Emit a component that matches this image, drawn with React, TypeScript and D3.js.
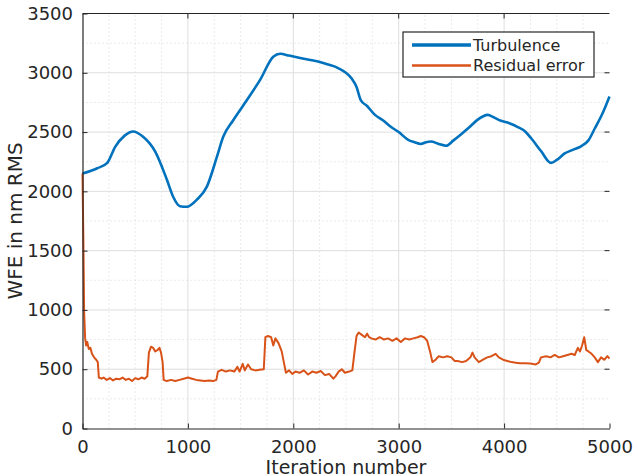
import React, { useEffect, useRef } from 'react';
import * as d3 from 'd3';

// Turbulence WFE (nm RMS)
const turbIter = [0, 140, 235, 310, 400, 480, 575, 690, 800, 860, 925, 990, 1085, 1180, 1275, 1335, 1430, 1560, 1685, 1810, 1875, 1960, 2065, 2150, 2235, 2330, 2425, 2550, 2600, 2640, 2700, 2775, 2850, 2925, 3000, 3090, 3150, 3210, 3260, 3305, 3380, 3450, 3520, 3590, 3670, 3750, 3845, 3900, 3970, 4050, 4135, 4200, 4255, 4350, 4445, 4500, 4575, 4650, 4730, 4800, 4860, 4930, 5000];
const turbVal = [2150, 2195, 2240, 2375, 2470, 2505, 2460, 2335, 2100, 1955, 1875, 1870, 1930, 2040, 2290, 2460, 2600, 2770, 2940, 3135, 3160, 3145, 3125, 3110, 3095, 3070, 3040, 2955, 2880, 2770, 2720, 2645, 2600, 2545, 2500, 2435, 2415, 2400, 2415, 2420, 2400, 2385, 2430, 2480, 2540, 2605, 2645, 2625, 2595, 2575, 2540, 2505, 2450, 2340, 2240, 2265, 2320, 2350, 2380, 2430, 2530, 2650, 2800];

// Residual error WFE (nm RMS)
const residIter = [0, 8, 15, 25, 35, 45, 60, 75, 90, 110, 130, 145, 155, 180, 200, 230, 260, 290, 320, 350, 380, 410, 440, 470, 500, 530, 560, 590, 615, 630, 650, 670, 690, 710, 730, 745, 760, 770, 800, 840, 880, 920, 960, 1000, 1040, 1080, 1120, 1160, 1200, 1240, 1270, 1285, 1320, 1360, 1400, 1440, 1470, 1490, 1520, 1540, 1570, 1600, 1640, 1680, 1720, 1735, 1760, 1790, 1810, 1830, 1860, 1890, 1910, 1930, 1960, 1990, 2020, 2060, 2100, 2140, 2180, 2220, 2260, 2300, 2340, 2380, 2400, 2430, 2460, 2490, 2530, 2560, 2580, 2600, 2620, 2650, 2680, 2700, 2720, 2740, 2780, 2820, 2860, 2900, 2940, 2980, 3020, 3060, 3100, 3140, 3180, 3210, 3240, 3270, 3300, 3320, 3350, 3380, 3420, 3460, 3500, 3530, 3560, 3600, 3640, 3680, 3700, 3720, 3760, 3800, 3840, 3880, 3920, 3950, 3990, 4030, 4070, 4110, 4150, 4200, 4250, 4300, 4330, 4350, 4400, 4440, 4480, 4520, 4560, 4600, 4640, 4670, 4700, 4720, 4740, 4760, 4780, 4800, 4830, 4860, 4890, 4920, 4950, 4980, 5000];
const residVal = [2150, 1600, 1000, 760, 700, 730, 670, 680, 630, 600, 580, 560, 430, 420, 430, 410, 425, 405, 420, 415, 430, 410, 420, 400, 425, 415, 430, 420, 440, 640, 690, 680, 650, 660, 680, 640, 560, 410, 400, 410, 400, 410, 420, 430, 420, 410, 405, 400, 405, 400, 410, 480, 495, 480, 490, 480, 520, 480, 545, 490, 540, 500, 490, 495, 500, 770, 780, 770, 700, 760, 720, 650, 560, 470, 490, 460, 480, 470, 490, 455, 480, 470, 485, 450, 460, 420, 440, 480, 500, 470, 480, 490, 640, 780, 810, 790, 770, 800, 770, 760, 750, 770, 750, 760, 740, 760, 730, 760, 750, 760, 770, 780, 770, 740, 640, 560, 580, 610, 600, 610, 600, 570, 570, 560, 570, 600, 640, 600, 560, 580, 600, 610, 630, 600, 580, 570, 560, 555, 550, 550, 548, 540, 555, 600, 610, 600, 620, 600, 610, 620, 630, 620, 680, 650, 700, 770, 660, 650, 630, 600, 560, 600, 580, 610, 590];

const xTicks = [0, 1000, 2000, 3000, 4000, 5000];
const yTicks = [0, 500, 1000, 1500, 2000, 2500, 3000, 3500];
const seriesNames = ['Turbulence', 'Residual error'];

const App = () => {
  const svgRef = useRef<SVGSVGElement>(null);

  useEffect(() => {
    const width = 638;
    const height = 476;
    const margin = { top: 13.5, right: 28.5, bottom: 47.5, left: 82.5 };
    const axisColor = '#262626';
    const font = 'DejaVu Sans, sans-serif';

    const svg = d3.select(svgRef.current);
    svg.selectAll('*').remove();

    const x = d3.scaleLinear().domain([0, 5000]).range([margin.left, width - margin.right]);
    const y = d3.scaleLinear().domain([0, 3500]).range([height - margin.bottom, margin.top]);

    // Minor grid (dotted), every 250 between the majors
    const minorX = d3.range(250, 5000, 250).filter(d => d % 1000 !== 0);
    const minorY = d3.range(250, 3500, 500);
    const grid = svg.append('g');
    grid.selectAll('.mx').data(minorX).join('line')
      .attr('class', 'mx')
      .attr('x1', d => x(d)).attr('x2', d => x(d))
      .attr('y1', y(0)).attr('y2', y(3500))
      .attr('stroke', '#d6d6d6').attr('stroke-dasharray', '1,3');
    grid.selectAll('.my').data(minorY).join('line')
      .attr('class', 'my')
      .attr('x1', x(0)).attr('x2', x(5000))
      .attr('y1', d => y(d)).attr('y2', d => y(d))
      .attr('stroke', '#d6d6d6').attr('stroke-dasharray', '1,3');

    // Major grid
    grid.selectAll('.gx').data(xTicks.slice(1, -1)).join('line')
      .attr('class', 'gx')
      .attr('x1', d => x(d)).attr('x2', d => x(d))
      .attr('y1', y(0)).attr('y2', y(3500))
      .attr('stroke', '#dedede');
    grid.selectAll('.gy').data(yTicks.slice(1, -1)).join('line')
      .attr('class', 'gy')
      .attr('x1', x(0)).attr('x2', x(5000))
      .attr('y1', d => y(d)).attr('y2', d => y(d))
      .attr('stroke', '#dedede');

    // Lines
    const turb = turbIter.map((d, i) => [d, turbVal[i]] as [number, number]);
    const resid = residIter.map((d, i) => [d, residVal[i]] as [number, number]);
    const line = d3.line<[number, number]>().x(d => x(d[0])).y(d => y(d[1]));

    svg.append('path').datum(resid)
      .attr('d', line).attr('fill', 'none')
      .attr('stroke', '#D95319').attr('stroke-width', 2).attr('stroke-linejoin', 'round');
    svg.append('path').datum(turb)
      .attr('d', line.curve(d3.curveMonotoneX)).attr('fill', 'none')
      .attr('stroke', '#0072BD').attr('stroke-width', 2.6).attr('stroke-linejoin', 'round');

    // Axes
    const fmt = d3.format('d');
    const xAxis = svg.append('g').attr('transform', `translate(0,${y(0)})`)
      .call(d3.axisBottom(x).tickValues(xTicks).tickFormat(fmt).tickSizeInner(-5).tickSizeOuter(0).tickPadding(11.5));
    const yAxis = svg.append('g').attr('transform', `translate(${x(0)},0)`)
      .call(d3.axisLeft(y).tickValues(yTicks).tickFormat(fmt).tickSizeInner(-5).tickSizeOuter(0).tickPadding(9.5));
    [xAxis, yAxis].forEach(g => {
      g.selectAll('path').attr('stroke', axisColor).attr('stroke-width', 1.2);
      g.selectAll('line').attr('stroke', axisColor);
      g.selectAll('text').attr('fill', axisColor).style('font-family', font).style('font-size', '18px');
    });

    // Top line and ticks, right ticks
    svg.append('line')
      .attr('x1', x(0)).attr('x2', x(5000)).attr('y1', y(3500)).attr('y2', y(3500))
      .attr('stroke', axisColor).attr('stroke-width', 1.2);
    svg.append('g').selectAll('line').data(xTicks.slice(1, -1)).join('line')
      .attr('x1', d => x(d)).attr('x2', d => x(d))
      .attr('y1', y(3500)).attr('y2', y(3500) + 5).attr('stroke', axisColor);
    svg.append('g').selectAll('line').data(yTicks.slice(1, -1)).join('line')
      .attr('x1', x(5000) - 5).attr('x2', x(5000))
      .attr('y1', d => y(d)).attr('y2', d => y(d)).attr('stroke', axisColor);

    // Axis labels
    svg.append('text')
      .attr('x', (x(0) + x(5000)) / 2).attr('y', 473.5)
      .attr('text-anchor', 'middle').attr('fill', axisColor)
      .style('font-family', font).style('font-size', '19px')
      .text('Iteration number');
    svg.append('text')
      .attr('transform', `translate(22,${(y(0) + y(3500)) / 2}) rotate(-90)`)
      .attr('text-anchor', 'middle').attr('fill', axisColor)
      .style('font-family', font).style('font-size', '20px')
      .text('WFE in nm RMS');

    // Legend
    const legend = svg.append('g').attr('transform', 'translate(403,32)');
    legend.append('rect')
      .attr('width', 191).attr('height', 45)
      .attr('fill', 'white').attr('stroke', axisColor).attr('stroke-width', 1.2);
    const colors = ['#0072BD', '#D95319'];
    const widths = [3.5, 2.5];
    seriesNames.forEach((name, i) => {
      const ly = 13 + i * 20.5;
      legend.append('line')
        .attr('x1', 9).attr('x2', 68).attr('y1', ly).attr('y2', ly)
        .attr('stroke', colors[i]).attr('stroke-width', widths[i]);
      legend.append('text')
        .attr('x', 70).attr('y', ly).attr('dy', '0.36em')
        .attr('fill', axisColor)
        .style('font-family', font).style('font-size', '16px')
        .text(name);
    });
  }, []);

  return (
    <svg ref={svgRef} width={638} height={476}
      style={{ position: 'absolute', left: 0, top: 0, background: 'white' }} />
  );
};

export default App;
